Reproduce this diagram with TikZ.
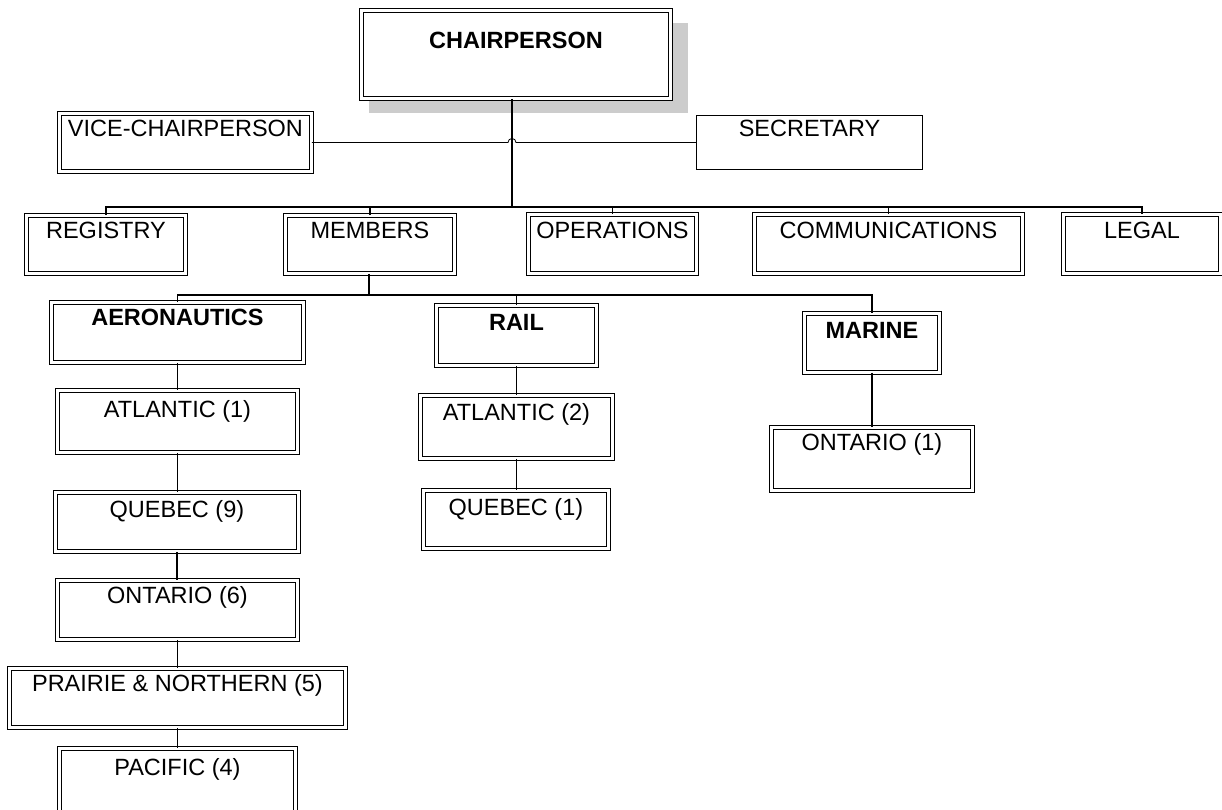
\documentclass[tikz,border=0pt]{standalone}
\usepackage{fontspec}
\setmainfont{Liberation Sans}
\usetikzlibrary{calc,backgrounds}

\begin{document}
\begin{tikzpicture}[
    x=1pt, y=-1pt,
    every node/.style={font=\fontsize{23.5}{28}\selectfont},
    unit/.style n args={3}{draw, double, double distance=2.4pt, line width=0.9pt, fill=white,
        inner sep=0pt, anchor=north west, minimum width=#1, text height=#2, text depth=#3},
    single/.style n args={3}{draw, line width=1pt, inner sep=0pt, anchor=north west,
        minimum width=#1, text height=#2, text depth=#3},
    link/.style={line width=1.1pt},
    trunk/.style={line width=1.6pt},
    thin/.style={line width=0.8pt}
]
\useasboundingbox (0,0) rectangle (1222,809);
\clip (0,0) rectangle (1222,809);

% top
\node[unit={309pt}{38pt}{50pt}] (chair) at (361,10) {\textbf{CHAIRPERSON}};
\begin{scope}[on background layer]
    \fill[black!20] ($(chair.north west)+(8,13)$) rectangle ($(chair.south east)+(17,14)$);
\end{scope}
\node[unit={252pt}{23pt}{35pt}] (vice) at (59,113) {VICE-CHAIRPERSON};
\node[single={226pt}{21pt}{33pt}] (sec) at (696,115) {SECRETARY};

% second row
\node[unit={159pt}{23pt}{35pt}] (reg) at (26,215) {REGISTRY};
\node[unit={169pt}{23pt}{35pt}] (mem) at (285,215) {MEMBERS};
\node[unit={168pt}{24pt}{35pt}] (ops) at (528,214) {OPERATIONS};
\node[unit={268pt}{24pt}{35pt}] (comm) at (754,214) {COMMUNICATIONS};
\node[unit={157pt}{24pt}{35pt}] (legal) at (1063,214) {LEGAL};

% modes
\node[unit={252pt}{23pt}{37pt}] (aero) at (51,302) {\textbf{AERONAUTICS}};
\node[unit={160pt}{25pt}{35pt}] (rail) at (436,305) {\textbf{RAIL}};
\node[unit={135pt}{25pt}{34pt}] (marine) at (804,313) {\textbf{MARINE}};

% regions
\node[unit={240pt}{27pt}{35pt}] (atl1) at (57,390) {ATLANTIC (1)};
\node[unit={243pt}{25pt}{34pt}] (que9) at (55,492) {QUEBEC (9)};
\node[unit={240pt}{23pt}{36pt}] (ont6) at (57,580) {ONTARIO (6)};
\node[unit={336pt}{23pt}{36pt}] (prai) at (9,668) {PRAIRIE \& NORTHERN (5)};
\node[unit={236pt}{27pt}{50pt}] (pac) at (59,748) {PACIFIC (4)};
\node[unit={192pt}{25pt}{38pt}] (atl2) at (420,395) {ATLANTIC (2)};
\node[unit={185pt}{25pt}{33pt}] (que1) at (423,490) {QUEBEC (1)};
\node[unit={201pt}{23pt}{40pt}] (ont1) at (771,427) {ONTARIO (1)};

\coordinate (bus) at (512,207);
\coordinate (sub) at (369,295);

% connectors
\draw[trunk] (bus |- chair.south) -- (bus);
\draw[thin] (vice.east) -- ($(vice.east -| bus)+(-4,0)$)
    arc[start angle=180, end angle=0, radius=4pt] -- (vice.east -| sec.west);
\draw[link] (reg.north) -- (reg.north |- bus) -- (legal.north |- bus) -- (legal.north);
\foreach \n in {mem, ops, comm}
    \draw[link] (\n.north) -- (\n.north |- bus);
\draw[link] (sub |- mem.south) -- (sub);
\draw[link] (aero.north) |- (sub) -| (marine.north);
\draw[link] (rail.north) -- (rail.north |- sub);
\foreach \a/\b in {aero/atl1, atl1/que9, que9/ont6, ont6/prai, prai/pac, rail/atl2, atl2/que1, marine/ont1}
    \draw[link] (\a.south) -- (\a.south |- \b.north);
\end{tikzpicture}
\end{document}
